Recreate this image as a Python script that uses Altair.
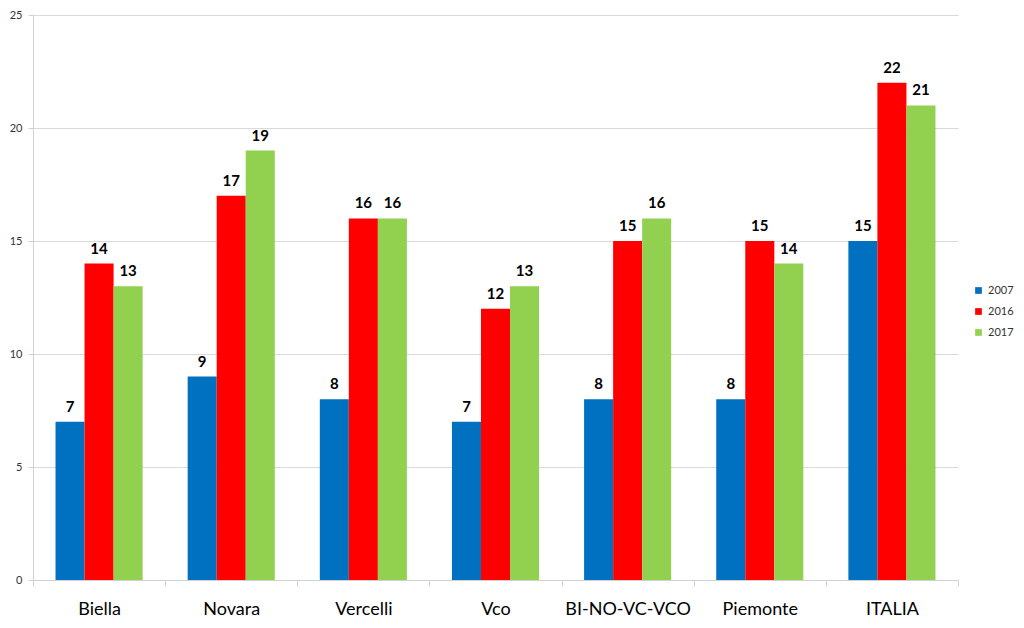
import altair as alt
import pandas as pd

categories = ["Biella", "Novara", "Vercelli", "Vco", "BI-NO-VC-VCO", "Piemonte", "ITALIA"]
years = ["2007", "2016", "2017"]
v2007 = [7, 9, 8, 7, 8, 8, 15]
v2016 = [14, 17, 16, 12, 15, 15, 22]
v2017 = [13, 19, 16, 13, 16, 14, 21]
colors = ["#0070C0", "#FF0000", "#92D050"]

rows = []
for i, c in enumerate(categories):
    for y, vals in zip(years, [v2007, v2016, v2017]):
        rows.append({"cat": c, "year": y, "value": vals[i]})
df = pd.DataFrame(rows)

FONT = "Lato"

x = alt.X("cat:N", sort=categories, title=None,
          scale=alt.Scale(paddingInner=0, paddingOuter=0),
          axis=alt.Axis(labelAngle=0, labelFontSize=18, labelColor="#000000",
                        labelPadding=14, domainColor="#d0d0d0", tickColor="#d0d0d0",
                        tickSize=6, tickBand="extent", labelFont=FONT))
xo = alt.XOffset("year:N", sort=years,
                 scale=alt.Scale(paddingInner=0, paddingOuter=0.776))
y = alt.Y("value:Q", title=None,
          scale=alt.Scale(domain=[0, 25], nice=False),
          axis=alt.Axis(values=[0, 5, 10, 15, 20, 25], labelFontSize=11,
                        labelColor="#333333", gridColor="#d9d9d9", domainColor="#d0d0d0",
                        tickColor="#d0d0d0", tickSize=5, labelPadding=6, labelFont=FONT))

bars = alt.Chart(df).mark_bar().encode(
    x=x, xOffset=xo, y=y,
    color=alt.Color("year:N", sort=years,
                    scale=alt.Scale(domain=years, range=colors),
                    legend=alt.Legend(title=None, orient="none", legendX=940, legendY=270,
                                      symbolType="square", symbolSize=45, labelFontSize=11,
                                      labelFont=FONT, rowPadding=9, labelColor="#333333",
                                      labelOffset=4, padding=0)),
)

labels = alt.Chart(df).mark_text(baseline="bottom", dy=-7, fontSize=15, fontWeight="bold",
                                 font=FONT, color="#000000").encode(
    x=alt.X("cat:N", sort=categories), xOffset=xo, y="value:Q", text="value:Q"
)

chart = (bars + labels).properties(
    width=925, height=565,
    padding={"left": 1, "top": 1, "right": 0, "bottom": 5},
    background="#ffffff",
).configure_view(stroke=None)

chart.save("out.html", embed_options={"renderer": "svg", "actions": False})
